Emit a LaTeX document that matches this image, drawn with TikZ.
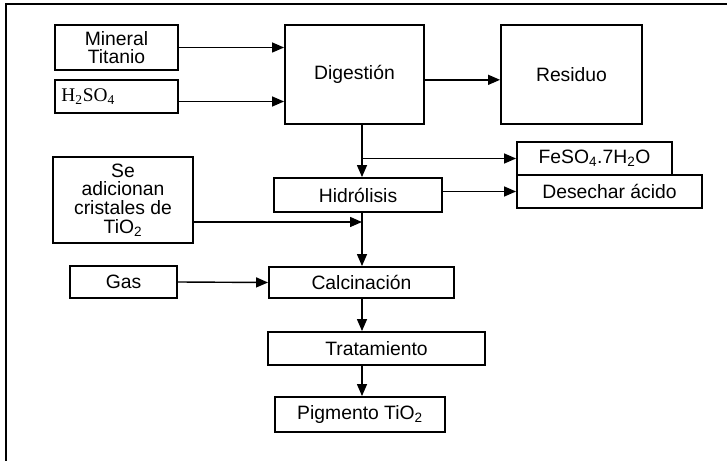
\documentclass[tikz,border=0pt]{standalone}
\usepackage{fontspec}
\setmainfont{Liberation Sans}
\newfontfamily\timesf{Liberation Serif}
\usetikzlibrary{arrows.meta,positioning}

\begin{document}
\begin{tikzpicture}[x=0.03cm,y=-0.03cm,>={Triangle[length=0.36cm,width=0.3cm]},
  box/.style={draw,line width=1.6pt,align=center,inner sep=2pt,font=\fontsize{16.5}{16}\selectfont},
  flow/.style={->,line width=1.2pt}]
  \useasboundingbox (0,0) rectangle (727,461);
  \draw[line width=1.6pt] (727,4) -- (6,4) -- (6,461);
  \foreach \name/\x/\y/\w/\h/\txt in {min/116.5/47.5/3.69/1.35/{Mineral\\Titanio},
      dig/354.5/74.5/4.17/2.97/{Digestión},res/571.5/74.5/4.23/2.97/{Residuo},
      fe/594.5/158.5/4.65/0.99/{FeSO\textsubscript{4}.7H\textsubscript{2}O},
      des/609.5/191.5/5.55/0.99/{Desechar ácido},hid/358/195/5.04/1.02/{Hidrólisis},
      se/123/200/4.2/2.58/{Se\\adicionan\\cristales de\\TiO\textsubscript{2}},
      gas/123.5/282/3.21/0.96/{Gas},cal/361.5/282.5/5.55/0.93/{Calcinación},
      tra/376.5/348.5/6.51/0.99/{Tratamiento},pig/360/414.5/5.1/1.05/{Pigmento TiO\textsubscript{2}}}
    \node[box,minimum width=\w cm,minimum height=\h cm] (\name) at (\x,\y) {\txt};
  \node[box,minimum width=3.69cm,minimum height=0.99cm,text width=3.3cm,align=left] (acid) at (116.5,96.5) {\timesf H\textsubscript{2}SO\textsubscript{4}};
  % entradas
  \draw[flow] (min.east) -- (min.east -| dig.west);
  \draw[flow] ([yshift=-0.15cm]acid.east) -- ([yshift=-0.15cm]acid.east -| dig.west);
  \draw[flow] ([yshift=-0.16cm]dig.east) -- ([yshift=-0.16cm]res.west);
  % linea principal
  \coordinate (spine) at (362,0);
  \coordinate (seed) at (362,222);
  \draw[flow] (dig.south -| spine) -- (hid.north -| spine);
  \draw[flow] (fe.west -| spine) -- (fe.west);
  \draw[flow] (des.west -| hid.east) -- (des.west);
  \draw[flow] (hid.south -| spine) -- (cal.north -| spine);
  \draw[flow] (se.east |- seed) -- (seed);
  \draw[flow] (gas.east) -- (cal.west);
  \draw[flow] (cal.south -| spine) -- (tra.north -| spine);
  \draw[flow] (tra.south -| spine) -- (pig.north -| spine);
\end{tikzpicture}
\end{document}
